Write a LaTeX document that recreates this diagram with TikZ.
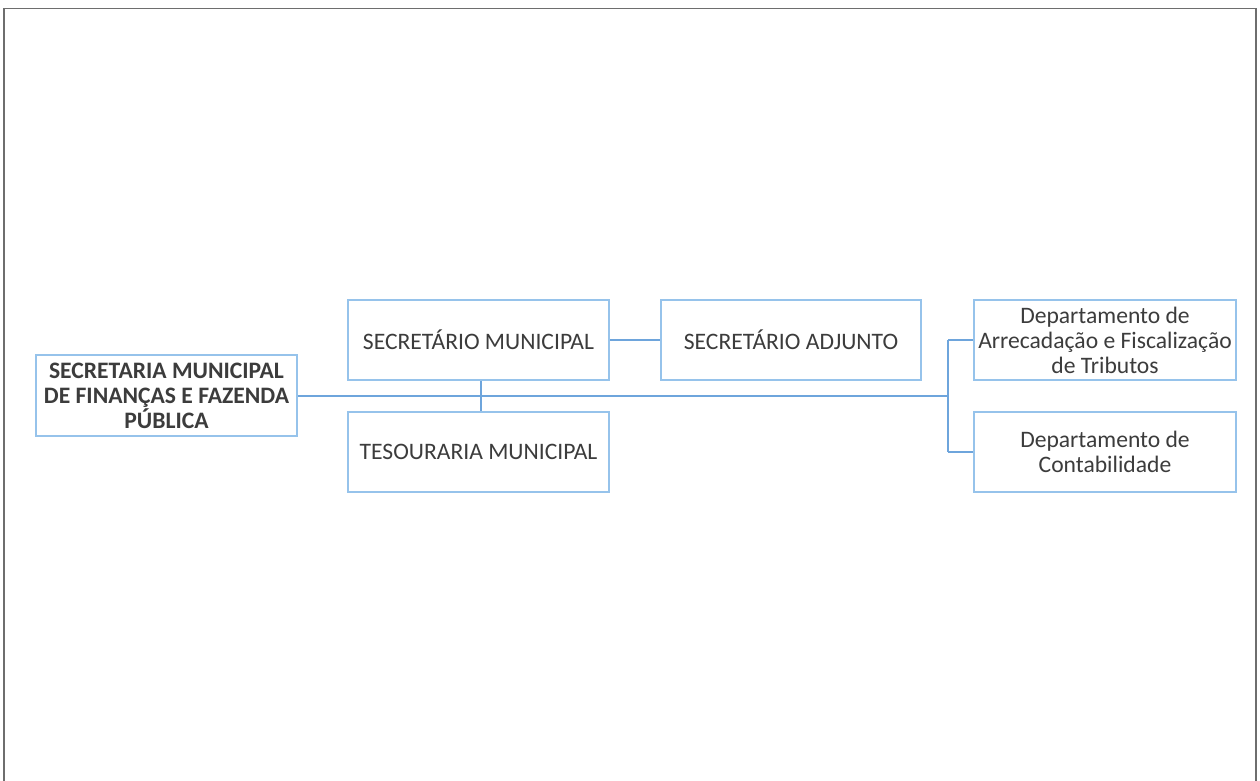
\documentclass[tikz,border=0pt]{standalone}
\usepackage{fontspec}
\setmainfont{Carlito}
\begin{document}
\begin{tikzpicture}[x=1pt,y=-1pt,
  unit/.style={draw=boxblue,line width=1.6pt,fill=white,text=textgray,
    align=center,inner sep=2pt,minimum height=80pt,minimum width=261pt,
    font=\fontsize{23.6}{25}\selectfont},
  link/.style={draw=lineblue,line width=1.8pt}]
\definecolor{boxblue}{RGB}{150,195,235}
\definecolor{lineblue}{RGB}{110,165,220}
\definecolor{textgray}{RGB}{60,60,60}
\definecolor{framegray}{RGB}{110,110,110}
\useasboundingbox (0,0) rectangle (1260,780);
\fill[white] (0,0) rectangle (1260,780);
% page frame, open at the bottom
\draw[framegray,line width=1.6pt] (4,781) -- (4,8.5) -- (1256,8.5) -- (1256,781);

% junction points of the connectors
\coordinate (jx) at (948,396);
\coordinate (vx) at (481,396);

% units
\node[unit,minimum height=81pt,font=\fontsize{23.6}{25}\selectfont\bfseries] (main) at (166.5,395.5)
  {SECRETARIA MUNICIPAL\\DE FINANÇAS E FAZENDA\\PÚBLICA};
\node[unit] (secmun) at (478.5,340) {SECRETÁRIO MUNICIPAL};
\node[unit] (teso) at (478.5,452) {TESOURARIA MUNICIPAL};
\node[unit,minimum width=260pt] (adj) at (791,340) {SECRETÁRIO ADJUNTO};
\node[unit,minimum width=262pt] (arrec) at (1105,340) {Departamento de\\Arrecadação e Fiscalização\\de Tributos};
\node[unit,minimum width=262pt] (contab) at (1105,452) {Departamento de\\Contabilidade};

% connectors
\draw[link] (main.east |- jx) -- (jx);
\draw[link] (secmun.south -| vx) -- (teso.north -| vx);
\draw[link] (secmun.east) -- (adj.west);
\draw[link] (jx |- arrec.west) -- (arrec.west);
\draw[link] (jx |- contab.west) -- (contab.west);
\draw[link] (jx |- arrec.west) -- (jx |- contab.west);
\end{tikzpicture}
\end{document}
